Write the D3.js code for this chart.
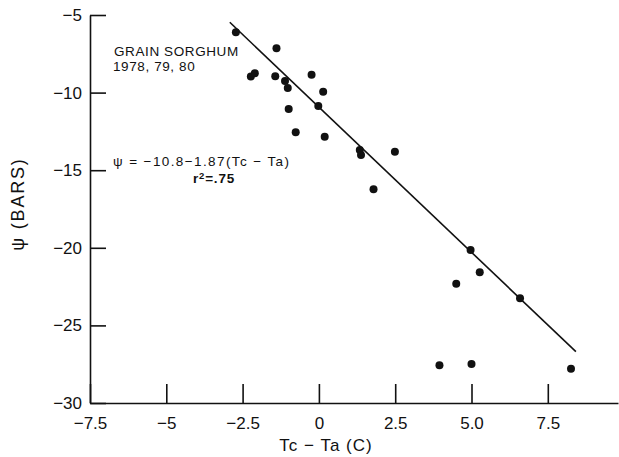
<!DOCTYPE html>
<html><head><meta charset="utf-8">
<script src="https://cdn.jsdelivr.net/npm/d3@7"></script>
<style>body{margin:0;background:#fff}svg{display:block}</style>
</head><body><div id="chart"></div>
<script>
// Data: Tc - Ta (C) vs leaf water potential psi (bars)
const tcTa = [-2.72,-1.39,-2.23,-2.10,-1.43,-0.24,-1.11,-1.02,-0.02,-0.99,-0.76,0.14,0.19,1.34,1.38,2.49,1.79,4.97,5.27,4.50,6.59,3.95,5.00,8.26];
const psi  = [-6.11,-7.15,-8.97,-8.76,-8.95,-8.85,-9.25,-9.70,-10.86,-11.06,-12.56,-9.94,-12.84,-13.70,-14.02,-13.81,-16.23,-20.14,-21.58,-22.31,-23.25,-27.57,-27.49,-27.79];
// Regression line end points as drawn in the figure
const fitX = [-2.92, 8.42];
const fitY = [-5.47, -26.69];
const xTicks = [-7.5,-5,-2.5,0,2.5,5,7.5];
const xTickLabels = ["\u22127.5","\u22125","\u22122.5","0","2.5","5.0","7.5"];
const yTicks = [-5,-10,-15,-20,-25,-30];
const yTickLabels = ["\u22125","\u221210","\u221215","\u221220","\u221225","\u221230"];

const W = 619, H = 457;
const svg = d3.select("#chart").append("svg").attr("width", W).attr("height", H);
const font = "'Liberation Sans', Arial, sans-serif";

const x = d3.scaleLinear().domain([-7.5, 9.8]).range([90, 618]);
const y = d3.scaleLinear().domain([-30, -5]).range([403, 15]);

const xAxis = d3.axisBottom(x).tickValues(xTicks).tickSizeInner(-19).tickSizeOuter(0).tickPadding(14)
  .tickFormat((d,i) => xTickLabels[i]);
const gx = svg.append("g").attr("transform", `translate(0,${y(-30)})`).call(xAxis);
const yAxis = d3.axisLeft(y).tickValues(yTicks).tickSizeInner(-16).tickSizeOuter(0).tickPadding(8)
  .tickFormat((d,i) => yTickLabels[i]);
const gy = svg.append("g").attr("transform", `translate(${x(-7.5)},0)`).call(yAxis);

[gx, gy].forEach(g => {
  g.selectAll("path, line").attr("stroke", "#111").attr("stroke-width", 1.6);
  g.selectAll("text").attr("font-family", font).attr("font-size", 17).attr("fill", "#111");
});

// Regression line
svg.append("path")
  .datum(fitX.map((v, i) => [v, fitY[i]]))
  .attr("d", d3.line().x(d => x(d[0])).y(d => y(d[1])))
  .attr("fill", "none").attr("stroke", "#111").attr("stroke-width", 1.6);

// Points
svg.append("g").selectAll("circle").data(tcTa).join("circle")
  .attr("cx", d => x(d)).attr("cy", (d,i) => y(psi[i])).attr("r", 4).attr("fill", "#111");

// Axis titles
svg.append("text").attr("x", 326).attr("y", 451).attr("text-anchor", "middle")
  .attr("font-family", font).attr("font-size", 17).attr("letter-spacing", 1).attr("fill", "#111").text("Tc \u2212 Ta (C)");
svg.append("text").attr("transform", "translate(24,204) rotate(-90)").attr("text-anchor", "middle")
  .attr("font-family", font).attr("font-size", 18).attr("letter-spacing", 1.8).attr("fill", "#111").text("\u03C8 (BARS)");

// Annotations
const ann = svg.append("g").attr("font-family", font).attr("fill", "#111");
ann.append("text").attr("x", 114).attr("y", 56).attr("font-size", 13.5).attr("letter-spacing", 0.6).text("GRAIN SORGHUM");
ann.append("text").attr("x", 113).attr("y", 71).attr("font-size", 13.5).attr("letter-spacing", 0.6).text("1978, 79, 80");
ann.append("text").attr("x", 113).attr("y", 166).attr("font-size", 13.5).attr("letter-spacing", 1.4).text("\u03C8 = \u221210.8\u22121.87(Tc \u2212 Ta)");
const r2 = ann.append("text").attr("x", 193).attr("y", 183).attr("font-size", 13.5).attr("font-weight", "bold").attr("letter-spacing", 0.8);
r2.append("tspan").text("r");
r2.append("tspan").attr("dy", -4).attr("font-size", 9.5).text("2");
r2.append("tspan").attr("dy", 4).text("=.75");
</script></body></html>
